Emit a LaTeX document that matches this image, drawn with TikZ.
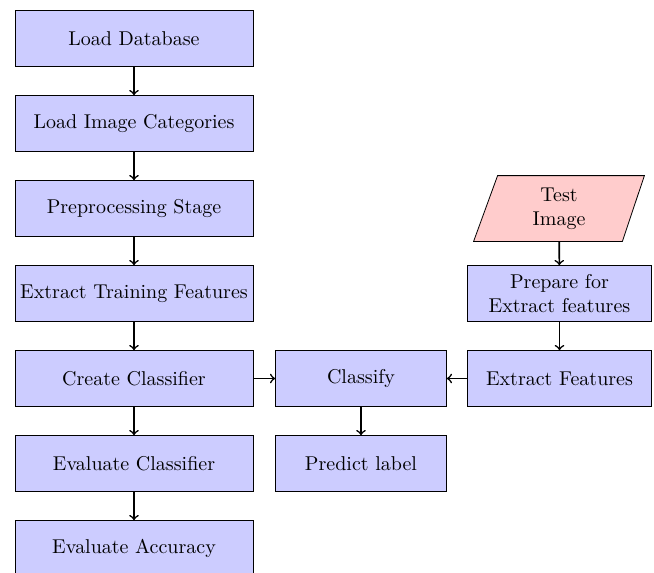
\documentclass[tikz,border=0pt]{standalone}
\usetikzlibrary{backgrounds}
\tikzset{
  box/.style={draw=black, fill=blue!20, rectangle, inner sep=0pt, minimum height=28pt, align=center},
  leftbox/.style={box, minimum width=119pt},
  midbox/.style={box, minimum width=85.5pt},
  rightbox/.style={box, minimum width=92.25pt},
  testshape/.style={inner sep=0pt, minimum width=73pt, minimum height=32.5pt, align=center},
  conn/.style={->, thick}
}
\begin{document}
\begin{tikzpicture}[x=0.5pt,y=-0.5pt]
\useasboundingbox (0,0) rectangle (654,573);
\node[leftbox] (ld) at (134,38.5) {Load Database};
\node[leftbox] (lic) at (134,123.5) {Load Image Categories};
\node[leftbox] (ps) at (134,208.5) {Preprocessing Stage};
\node[leftbox] (etf) at (134,293.5) {Extract Training Features};
\node[leftbox] (cc) at (134,378.5) {Create Classifier};
\node[leftbox] (ec) at (134,463.5) {Evaluate Classifier};
\node[leftbox] (ea) at (134,548.5) {Evaluate Accuracy};
\node[midbox] (cl) at (361,378.5) {Classify};
\node[midbox] (pl) at (361,463.5) {Predict label};
\node[rightbox] (ef) at (559.5,378.5) {Extract Features};
\node[rightbox] (pf) at (559.5,293.5) {Prepare for\\Extract features};
\node[testshape] (ti) at (559,208.5) {Test\\Image};
\begin{scope}[on background layer]
\draw[fill=red!20] ([xshift=-6pt]ti.south west) -- ([xshift=-5pt]ti.south east) -- ([xshift=6pt]ti.north east) -- ([xshift=6pt]ti.north west) -- cycle;
\end{scope}
\draw[conn] (ld) -- (lic);
\draw[conn] (lic) -- (ps);
\draw[conn] (ps) -- (etf);
\draw[conn] (etf) -- (cc);
\draw[conn] (cc) -- (ec);
\draw[conn] (ec) -- (ea);
\draw[conn] (cc) -- (cl);
\draw[conn] (ef) -- (cl);
\draw[conn] (cl) -- (pl);
\draw[conn] (ti) -- (pf);
\draw[conn] (pf) -- (ef);
\end{tikzpicture}
\end{document}
